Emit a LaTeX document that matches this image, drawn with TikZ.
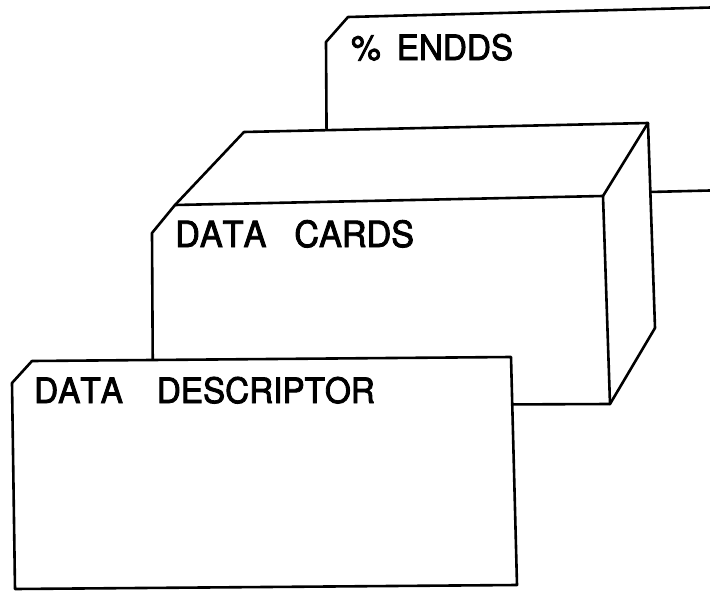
\documentclass[tikz,border=0pt]{standalone}
\usepackage{fontspec}
\setmainfont[Kerning=Off,FakeStretch=0.95,FakeBold=2.4]{TeX Gyre Heros}
\usepackage{tikz}
\tikzset{
    card/.style={draw, fill=white, line width=2.6pt, line join=round},
    edge/.style={line width=2.6pt, line join=round, line cap=round},
    lbl/.style={anchor=base west, inner sep=0pt, font=\fontsize{35}{40}\selectfont}
}

\begin{document}
\begin{tikzpicture}[x=1pt,y=-1pt]
    \useasboundingbox (0,0) rectangle (710,597);
    \clip (0,0) rectangle (710,597);
    \draw[card] (327,200) -- (326,42) -- (348,17) -- (730,7) -- (730,190) -- cycle;
    \node[lbl] (endds) at (351,60) {\%\hspace{16pt}ENDDS};
    \draw[card] (244,132) -- (648,123) -- (655,328) -- (610,404) -- (153,406)
      -- (152,233) -- (175,205) -- cycle;
    \draw[edge] (175,205) -- (603,196) -- (610,404);
    \draw[edge] (603,196) -- (648,123);
    \node[lbl, font=\fontsize{36}{40}\selectfont] (cards) at (175,247) {DATA\hspace{28pt}CARDS};
    \draw[card] (32,361) -- (511,357) -- (517,585) -- (15,589) -- (12,383) -- cycle;
    \node[lbl] (descr) at (34,403) {DATA\hspace{34pt}DESCRIPTOR};
\end{tikzpicture}
\end{document}
